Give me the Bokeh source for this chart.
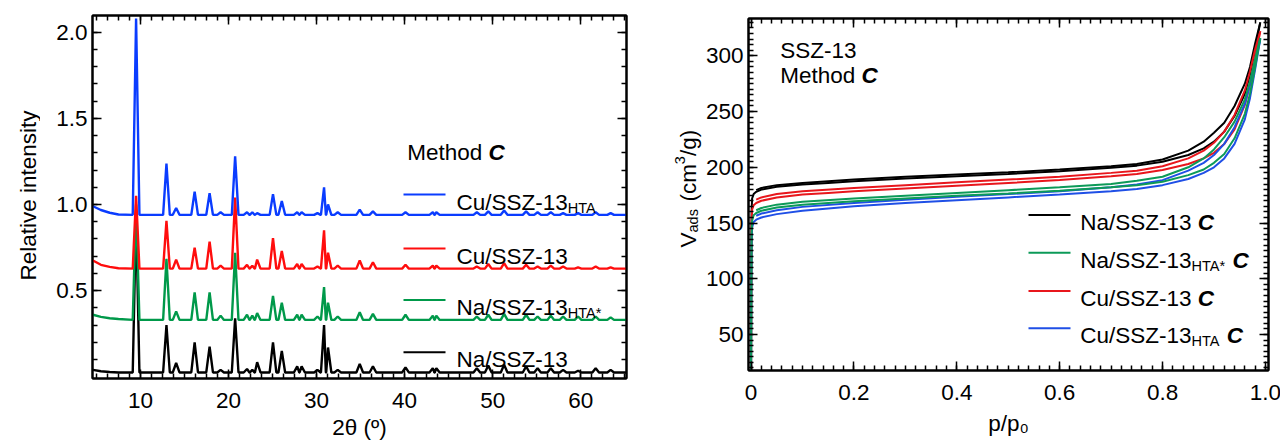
import math
from bokeh.plotting import figure
from bokeh.layouts import row
from bokeh.models import (Plot, Range1d, LinearAxis, FixedTicker, Label,
                          CustomJSTickFormatter, PrintfTickFormatter)
from bokeh.embed import file_html
from bokeh.resources import INLINE

FONT = "Liberation Sans"
SIZE = 22.5
SUB = 14.5
# plots in a row are otherwise aligned on their frames
UNALIGN = "frame_align" in Plot.properties()

# ---------------- XRD patterns (2theta, relative intensity) ----------------
LOW_2THETA = [4.6, 5.5, 6.5, 7.5]
END_2THETA = 65.2
PEAK_2THETA = [9.5, 12.95, 14.05, 16.15, 17.85, 19.1, 20.75, 22.1, 22.7, 23.25,
               25.05, 26.05, 27.8, 28.3, 30.1, 30.85, 31.3, 32.4, 34.9, 36.4,
               40.1, 43.2, 43.6, 48.2, 49.5, 51.3, 53.8, 55.1, 56.6, 58.0,
               59.7, 61.7, 63.4]

NA_LOW = [0.04, 0.032, 0.028, 0.025]
NA_BASE = 0.025
NA_TOPS = [0.95, 0.30, 0.08, 0.20, 0.175, 0.04, 0.34, 0.045, 0.04, 0.085,
           0.20, 0.15, 0.06, 0.06, 0.04, 0.30, 0.17, 0.04, 0.075, 0.06,
           0.055, 0.05, 0.05, 0.05, 0.065, 0.07, 0.06, 0.05, 0.05, 0.04,
           0.035, 0.05, 0.04]

NAHTA_LOW = [0.36, 0.348, 0.34, 0.335]
NAHTA_BASE = 0.33
NAHTA_TOPS = [1.00, 0.685, 0.38, 0.49, 0.49, 0.355, 0.72, 0.36, 0.355, 0.37,
              0.47, 0.43, 0.36, 0.36, 0.35, 0.52, 0.43, 0.35, 0.375, 0.365,
              0.36, 0.355, 0.355, 0.35, 0.36, 0.365, 0.36, 0.35, 0.355, 0.35,
              0.35, 0.35, 0.345]

CU_LOW = [0.675, 0.65, 0.638, 0.63]
CU_BASE = 0.628
CU_TOPS = [1.05, 0.905, 0.68, 0.75, 0.785, 0.645, 1.04, 0.65, 0.645, 0.68,
           0.805, 0.73, 0.655, 0.655, 0.64, 0.85, 0.72, 0.645, 0.675, 0.665,
           0.65, 0.645, 0.645, 0.64, 0.655, 0.66, 0.65, 0.64, 0.645, 0.64,
           0.635, 0.64, 0.635]

CUHTA_LOW = [0.99, 0.968, 0.952, 0.942]
CUHTA_BASE = 0.94
CUHTA_TOPS = [2.08, 1.237, 0.98, 1.075, 1.065, 0.955, 1.28, 0.955, 0.955, 0.95,
              1.06, 1.02, 0.955, 0.955, 0.95, 1.10, 1.0, 0.955, 0.97, 0.96,
              0.955, 0.955, 0.955, 0.955, 0.96, 0.965, 0.96, 0.955, 0.955, 0.95,
              0.95, 0.955, 0.95]

# ---------------- N2 isotherms (p/p0, V_ads in cm3/g) ----------------
P_ADS = [0.0, 0.0005, 0.001, 0.002, 0.005, 0.01, 0.02, 0.05, 0.1, 0.15, 0.2, 0.3,
         0.4, 0.5, 0.6, 0.7, 0.75, 0.8, 0.85, 0.88, 0.9, 0.92, 0.94, 0.96, 0.97,
         0.98, 0.99]
P_DES = [0.99, 0.98, 0.97, 0.96, 0.94, 0.92, 0.9, 0.88, 0.85, 0.8, 0.75, 0.7,
         0.6, 0.5, 0.4, 0.3, 0.2, 0.1, 0.05, 0.02, 0.01]

NA_ADS = [10, 120, 160, 172, 176, 178, 180, 182.5, 184.5, 186, 187.5, 190, 192,
          194, 196.5, 199.5, 201.5, 205, 211, 217, 223, 232, 246, 266, 283, 306, 330]
NA_DES = [330, 311, 290, 275, 255, 240, 231, 223, 215, 207, 203, 201, 198, 195.5,
          193.5, 191.5, 189, 186, 184, 181.5, 179.5]

NAHTA_ADS = [10, 100, 140, 152, 157, 159, 161, 164, 166.5, 168, 169.5, 172, 174.5,
             176.5, 179, 182, 184, 187, 193, 198, 204, 212, 226, 248, 266, 290, 316]
NAHTA_DES = [316, 297, 277, 261, 241, 227, 216, 208, 200, 191.5, 188, 185, 182,
             179.5, 177, 174.5, 172, 169, 166.5, 163.5, 161.5]

CU_ADS = [10, 110, 150, 162, 166, 168, 170, 173, 175.5, 177, 178.5, 181, 183.5,
          186, 188.5, 192, 194, 197.5, 203, 208, 213, 221, 234, 256, 274, 298, 322]
CU_DES = [322, 306, 286, 269, 247, 232, 222, 215, 208, 201, 197, 195, 191.5, 189,
          186.5, 184, 181.5, 178.5, 176, 173, 171]

CUHTA_ADS = [10, 95, 135, 146, 151, 153, 155, 158, 161, 163, 165, 168, 170.5, 173,
             175.5, 178.5, 180.5, 184, 189.5, 195, 200, 208, 221, 243, 262, 288, 315]
CUHTA_DES = [315, 295, 274, 257, 236, 221, 211, 204, 197, 188.5, 184.5, 182,
             178.5, 176, 173.5, 171, 168, 164.5, 161.5, 158.5, 156.5]

BLACK = "#000000"
RED = "#ff0d0d"
GREEN = "#00994a"
BLUE = "#0a3cff"
ISO_RED = "#e8161c"
ISO_GREEN = "#0c9a58"
ISO_BLUE = "#1f4fe6"

# Arial-compatible advance widths (per 1000 em)
ADV = {' ': 278, 'C': 722, 'u': 556, '/': 278, 'S': 667, 'Z': 611, '-': 333,
       '1': 556, '3': 556, 'N': 722, 'a': 556, 'H': 722, 'T': 611, 'A': 667,
       '*': 389, 'M': 833, 'e': 556, 't': 278, 'h': 556, 'o': 556, 'd': 556,
       'p': 556, 'V': 667, 's': 500, '(': 333, ')': 333, 'c': 500, 'm': 833,
       'g': 556, '0': 556}


def text_width(s, size):
    return sum(ADV.get(ch, 556) for ch in s) * size / 1000.0


def pattern(low_vals, tops, base):
    """Polyline through the read peak maxima of one diffractogram."""
    xs, ys = list(LOW_2THETA), list(low_vals)
    n = len(PEAK_2THETA)
    for i, (pos, top) in enumerate(zip(PEAK_2THETA, tops)):
        prev = PEAK_2THETA[i - 1] if i else LOW_2THETA[-1]
        nxt = PEAK_2THETA[i + 1] if i + 1 < n else END_2THETA
        wl = min(0.38, (pos - prev) / 2 - 0.02)
        wr = min(0.38, (nxt - pos) / 2 - 0.02)
        xs += [pos - wl, pos, pos + wr]
        ys += [base, top, base]
    xs.append(END_2THETA)
    ys.append(base)
    return xs, ys


def mapper(left, top, width, height, xr, yr):
    """Page pixel -> data coordinates for a plot frame."""
    def fx(px):
        return xr[0] + (px - left) / width * (xr[1] - xr[0])

    def fy(py):
        return yr[1] - (py - top) / height * (yr[1] - yr[0])
    return fx, fy


def same(v):
    return v


def rich(p, fx, fy, x0, y0, parts, rotated=False, sub_shift=5.5, gap=1.0):
    """Draw a run of text pieces (normal, sub, sup, bold-italic, gap)."""
    pos = 0.0
    for txt, kind in parts:
        size = SUB if kind in ("sub", "sup") else SIZE
        if kind == "gap":
            pos += text_width(" ", SIZE) * gap
            continue
        shift = {"sub": sub_shift, "sup": -8.5}.get(kind, 0.0)
        style = "bold italic" if kind == "bi" else "normal"
        if rotated:
            px, py, ang = x0 + shift, y0 - pos, math.pi / 2
        else:
            px, py, ang = x0 + pos, y0 + shift, 0.0
        p.add_layout(Label(x=fx(px), y=fy(py), text=txt, text_font=FONT,
                           text_font_size=f"{size}px", text_font_style=style,
                           text_color="black", angle=ang, text_align="left",
                           text_baseline="alphabetic"))
        pos += text_width(txt, size)


def style_axis(ax, ticker, formatter=None, labels=True, standoff=5):
    ax.ticker = ticker
    ax.axis_line_width = 2
    ax.axis_line_color = "black"
    ax.major_tick_in = 9
    ax.major_tick_out = 0
    ax.minor_tick_in = 5
    ax.minor_tick_out = 0
    ax.major_tick_line_width = 1.5
    ax.minor_tick_line_width = 1.5
    ax.major_tick_line_color = "black"
    ax.minor_tick_line_color = "black"
    ax.major_label_text_font = FONT
    ax.major_label_text_font_size = f"{SIZE}px"
    ax.major_label_text_color = "black"
    ax.major_label_standoff = standoff
    ax.axis_label_text_font = FONT
    ax.axis_label_text_font_size = f"{SIZE}px"
    ax.axis_label_text_font_style = "normal"
    ax.axis_label_text_color = "black"
    if not labels:
        ax.formatter = CustomJSTickFormatter(code="return ''")
        ax.major_label_standoff = 0
    elif formatter is not None:
        ax.formatter = formatter


def framed(frame, xr, yr, borders, xt, yt, xfmt, yfmt, xstand, ystand):
    fw, fh = frame
    left, right, top, bottom = borders
    p = figure(frame_width=fw, frame_height=fh, x_range=Range1d(*xr), y_range=Range1d(*yr),
               output_backend="svg", toolbar_location=None,
               x_axis_location=None, y_axis_location=None,
               min_border_left=left, min_border_right=right,
               min_border_top=top, min_border_bottom=bottom)
    if UNALIGN:
        p.frame_align = False
    p.grid.visible = False
    p.outline_line_color = "black"
    p.outline_line_width = 2
    p.background_fill_color = "white"
    p.border_fill_color = "white"
    bottom_ax, left_ax, top_ax, right_ax = LinearAxis(), LinearAxis(), LinearAxis(), LinearAxis()
    style_axis(bottom_ax, xt, xfmt, True, xstand)
    style_axis(left_ax, yt, yfmt, True, ystand)
    style_axis(top_ax, xt, labels=False)
    style_axis(right_ax, yt, labels=False)
    p.add_layout(bottom_ax, "below")
    p.add_layout(left_ax, "left")
    p.add_layout(top_ax, "above")
    p.add_layout(right_ax, "right")
    return p, bottom_ax


def strip(x0, y0, w, h):
    """Plain text band whose data coordinates are page pixels."""
    s = figure(width=w, height=h, x_range=Range1d(x0, x0 + w), y_range=Range1d(y0 + h, y0),
               output_backend="svg", toolbar_location=None,
               x_axis_location=None, y_axis_location=None, min_border=0)
    if UNALIGN:
        s.frame_align = False
    s.grid.visible = False
    s.outline_line_color = None
    s.background_fill_color = "white"
    s.border_fill_color = "white"
    return s


# ---------------- left panel: XRD ----------------
XL = (4.55, 65.2)
YL = (-0.01, 2.097)
xt_l = FixedTicker(ticks=[10, 20, 30, 40, 50, 60],
                   minor_ticks=[round(5 + 1.25 * k, 3) for k in range(49)])
yt_l = FixedTicker(ticks=[0.5, 1.0, 1.5, 2.0],
                   minor_ticks=[round(0.1 * k, 2) for k in range(1, 21)])
p1, bottom1 = framed((534, 363), XL, YL, (52, 34, 15, 63), xt_l, yt_l,
                     None, PrintfTickFormatter(format="%.1f"), 14, 5)
bottom1.axis_label = "2θ (º)"
bottom1.axis_label_standoff = 4
fx1, fy1 = mapper(92, 15, 534, 363, XL, YL)

xrd = [
    (NA_LOW, NA_TOPS, NA_BASE, BLACK),
    (NAHTA_LOW, NAHTA_TOPS, NAHTA_BASE, GREEN),
    (CU_LOW, CU_TOPS, CU_BASE, RED),
    (CUHTA_LOW, CUHTA_TOPS, CUHTA_BASE, BLUE),
]
for low, tops, base, col in xrd:
    xs, ys = pattern(low, tops, base)
    p1.line(xs, ys, line_color=col, line_width=2.4)

rich(p1, fx1, fy1, 406.7, 151.7, [("Method", "n"), ("", "gap"), ("C", "bi")])
left_rows = [
    (194.0, BLUE, [("Cu/SSZ-13", "n"), ("HTA", "sub")]),
    (248.0, RED, [("Cu/SSZ-13", "n")]),
    (299.5, GREEN, [("Na/SSZ-13", "n"), ("HTA*", "sub")]),
    (351.7, BLACK, [("Na/SSZ-13", "n")]),
]
for ypx, col, parts in left_rows:
    p1.line([fx1(403), fx1(445)], [fy1(ypx), fy1(ypx)], line_color=col, line_width=2)
    rich(p1, fx1, fy1, 456, ypx + 7.7, parts)

ytitle1 = strip(0, 0, 40, 441)
ytitle1.add_layout(Label(x=28.3, y=195, text="Relative intensity", text_font=FONT,
                         text_font_size=f"{SIZE}px", text_color="black", angle=math.pi / 2,
                         text_align="center", text_baseline="alphabetic"))

# ---------------- right panel: isotherms ----------------
XR = (-0.005, 1.006)
YR = (17.7, 333.5)
xt_r = FixedTicker(ticks=[0, 0.2, 0.4, 0.6, 0.8, 1.0],
                   minor_ticks=[round(0.02 * k, 3) for k in range(51)])
yt_r = FixedTicker(ticks=[50, 100, 150, 200, 250, 300],
                   minor_ticks=[20 + 5 * k for k in range(63)])
p2, bottom2 = framed((520, 352), XR, YR, (43, 15, 18, 71), xt_r, yt_r,
                     PrintfTickFormatter(format="%.1f"), None, 14, 5)
bottom2.major_label_overrides = {0: "0"}
bottom2.axis_label = "p/p₀"
bottom2.axis_label_standoff = 8
fx2, fy2 = mapper(745, 18, 520, 352, XR, YR)

iso = [
    (NA_ADS, NA_DES, BLACK),
    (CU_ADS, CU_DES, ISO_RED),
    (CUHTA_ADS, CUHTA_DES, ISO_BLUE),
    (NAHTA_ADS, NAHTA_DES, ISO_GREEN),
]
for ads, des, col in iso:
    p2.line(P_ADS, ads, line_color=col, line_width=2)
    p2.line(P_DES, des, line_color=col, line_width=2)

rich(p2, fx2, fy2, 776.7, 50, [("SSZ-13", "n")])
rich(p2, fx2, fy2, 776.7, 75, [("Method", "n"), ("", "gap"), ("C", "bi")])

right_rows = [
    (214.6, BLACK, [("Na/SSZ-13", "n"), ("", "gap"), ("C", "bi")]),
    (252.3, ISO_GREEN, [("Na/SSZ-13", "n"), ("HTA*", "sub"), ("", "gap"), ("C", "bi")]),
    (290.5, ISO_RED, [("Cu/SSZ-13", "n"), ("", "gap"), ("C", "bi")]),
    (327.7, ISO_BLUE, [("Cu/SSZ-13", "n"), ("HTA", "sub"), ("", "gap"), ("C", "bi")]),
]
for ypx, col, parts in right_rows:
    p2.line([fx2(1025), fx2(1067)], [fy2(ypx), fy2(ypx)], line_color=col, line_width=2)
    rich(p2, fx2, fy2, 1076.7, ypx + 7.7, parts)

ytitle2 = strip(660, 0, 42, 441)
rich(ytitle2, same, same, 688, 247,
     [("V", "n"), ("ads", "sub"), ("", "gap"), ("(cm", "n"), ("3", "sup"), ("/g)", "n")],
     rotated=True, sub_shift=4, gap=1.2)

layout = row(ytitle1, p1, ytitle2, p2)
page_style = ("{% block postamble %}<style>html, body {overflow: hidden;}</style>"
              "{% endblock %}")
open("out.html", "w").write(file_html(layout, INLINE, template=page_style))
